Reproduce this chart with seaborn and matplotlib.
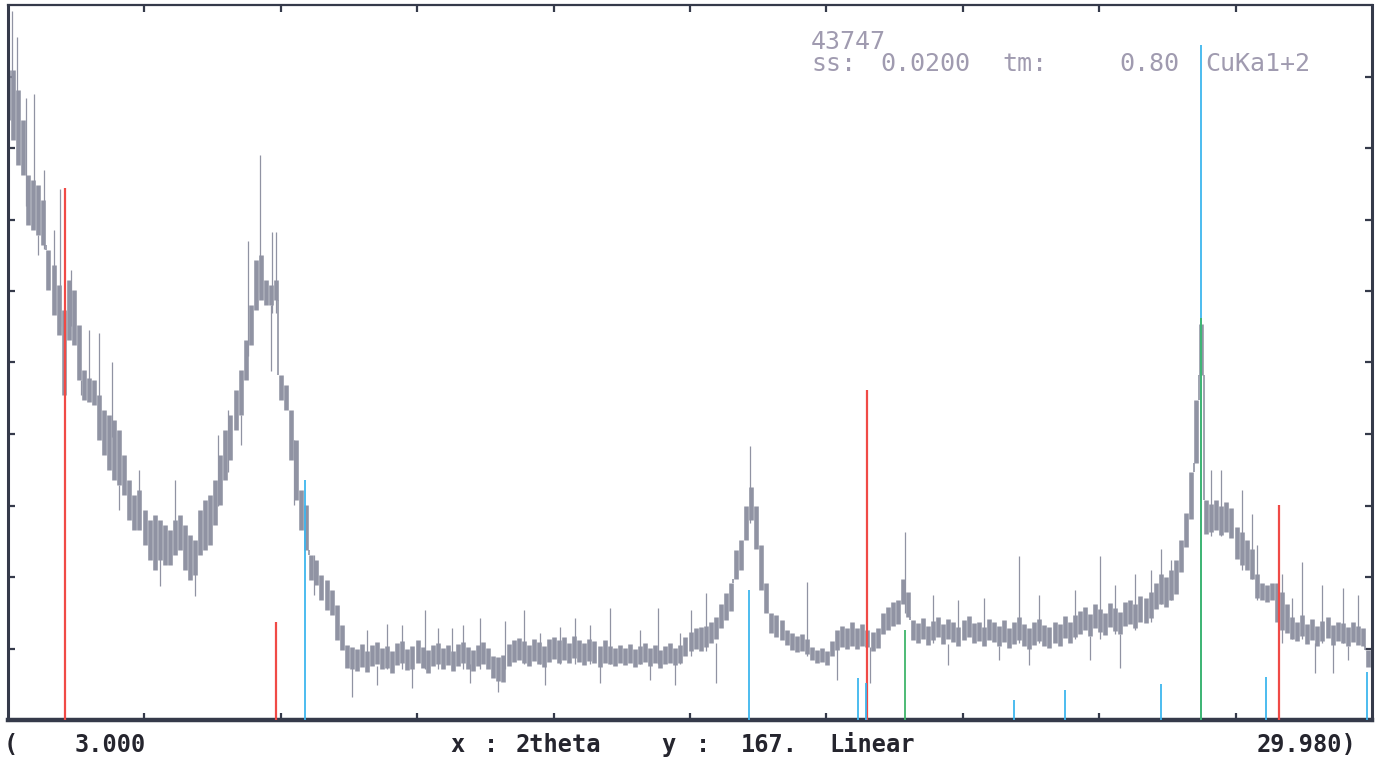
import numpy as np
import pandas as pd
import matplotlib
matplotlib.use("Agg")
import matplotlib.pyplot as plt
import seaborn as sns

# scan limits (deg 2theta) and full scale of the linear y axis (counts)
x_min, x_max = 3.000, 29.980
y_full = 167.

two_theta = np.round(np.arange(3.0, 29.95, 0.1), 1)
band_hi = [
  151.8, 151.8, 147.2, 140.2, 127.3, 126.1, 125.0, 121.5, 109.8, 106.3,
  101.6, 95.8, 102.8, 100.4, 92.3, 81.8, 79.9, 79.4, 75.9, 72.4,
  71.2, 70.1, 67.7, 61.9, 56.1, 52.6, 53.7, 49.1, 46.7, 47.9,
  46.7, 45.6, 44.4, 46.7, 47.9, 45.6, 43.2, 42.0, 49.1, 51.4,
  52.6, 56.1, 61.9, 67.7, 71.2, 77.1, 81.8, 88.8, 96.9, 107.5,
  108.6, 102.8, 101.6, 102.8, 80.6, 78.3, 72.4, 65.4, 53.7, 50.2,
  38.5, 37.4, 33.9, 32.7, 30.4, 26.9, 22.2, 17.5, 17.0, 16.5,
  17.8, 16.2, 17.5, 18.2, 16.8, 17.2, 16.0, 17.9, 18.4, 16.6,
  17.4, 18.6, 17.0, 16.3, 17.6, 18.0, 16.8, 17.5, 16.2, 17.8,
  18.3, 17.0, 16.4, 17.6, 18.2, 16.9, 15.0, 14.6, 15.2, 17.8,
  18.8, 19.2, 18.4, 17.6, 19.0, 18.2, 17.4, 18.9, 19.4, 18.6,
  19.3, 18.0, 19.6, 18.8, 17.9, 19.0, 18.4, 17.2, 18.6, 17.4,
  16.8, 17.6, 16.9, 17.8, 16.6, 17.3, 18.0, 16.8, 17.5, 16.4,
  17.2, 17.9, 16.9, 17.6, 19.5, 20.5, 21.5, 21.7, 22.0, 23.0,
  24.0, 27.0, 29.7, 32.0, 39.7, 42.0, 50.0, 54.4, 50.0, 40.9,
  32.0, 25.0, 24.5, 23.4, 21.0, 20.3, 19.6, 20.0, 19.0, 17.1,
  16.4, 16.8, 16.0, 18.5, 21.0, 22.0, 21.5, 22.8, 21.6, 22.4,
  21.0, 20.5, 21.4, 25.0, 26.5, 27.5, 28.0, 33.0, 30.0, 23.4,
  22.6, 23.8, 22.0, 23.2, 24.0, 22.4, 23.6, 22.8, 21.8, 23.4,
  24.2, 22.6, 23.0, 21.8, 23.6, 22.8, 22.0, 23.4, 21.6, 22.8,
  24.0, 22.4, 21.4, 22.8, 23.6, 22.2, 21.8, 23.0, 22.4, 24.2,
  23.0, 24.6, 25.4, 26.4, 24.8, 27.0, 26.0, 25.0, 27.4, 26.2,
  25.2, 27.6, 28.0, 27.0, 29.0, 28.4, 30.0, 32.0, 34.0, 33.5,
  35.0, 37.4, 42.0, 48.4, 58.0, 74.8, 92.5, 51.4, 50.5, 51.4,
  50.0, 51.0, 49.5, 45.0, 44.0, 42.0, 40.0, 34.0, 32.0, 31.5,
  32.0, 32.0, 30.0, 27.0, 24.0, 23.0, 24.6, 22.4, 23.6, 22.0,
  23.2, 24.0, 22.2, 23.0, 22.6, 21.8, 22.8, 22.0, 21.6, 16.4]
band_lo = [
  140.2, 135.5, 129.6, 127.3, 115.6, 114.5, 113.3, 111.0, 100.4, 94.6,
  89.9, 75.9, 88.8, 87.6, 79.4, 74.8, 74.3, 73.6, 65.4, 61.9,
  58.4, 56.1, 54.9, 52.6, 46.7, 44.4, 44.4, 40.9, 37.4, 35.0,
  37.4, 36.2, 36.2, 38.5, 39.7, 35.0, 32.7, 33.9, 38.5, 39.7,
  40.9, 45.6, 50.2, 56.1, 60.7, 67.7, 71.2, 79.4, 87.6, 95.8,
  98.1, 96.9, 96.9, 98.1, 74.8, 72.4, 60.7, 51.4, 44.4, 39.7,
  32.7, 31.5, 28.0, 25.7, 24.5, 18.7, 16.4, 12.1, 12.0, 11.5,
  12.4, 11.2, 12.6, 13.0, 11.8, 12.2, 11.0, 12.8, 13.2, 11.6,
  12.0, 13.4, 12.2, 11.0, 12.5, 13.0, 12.0, 12.8, 11.5, 12.6,
  13.2, 12.0, 11.4, 12.6, 13.1, 12.0, 9.8, 9.0, 8.8, 12.5,
  13.5, 14.0, 13.2, 12.6, 13.8, 13.0, 12.4, 13.6, 14.2, 13.4,
  14.0, 13.2, 14.4, 13.6, 12.8, 13.8, 13.2, 12.4, 13.4, 13.0,
  12.6, 13.2, 12.8, 13.4, 12.4, 13.0, 13.6, 12.6, 13.2, 12.2,
  13.0, 13.4, 12.8, 13.2, 15.0, 16.0, 16.5, 16.0, 17.0, 18.0,
  19.0, 21.5, 23.4, 25.5, 33.0, 35.0, 42.0, 46.7, 40.0, 30.4,
  25.0, 20.3, 19.5, 18.7, 17.5, 16.4, 15.8, 16.0, 15.5, 14.0,
  13.3, 13.5, 12.8, 15.0, 16.4, 17.0, 16.5, 17.4, 16.6, 17.2,
  17.1, 16.0, 16.8, 20.0, 21.0, 22.0, 22.5, 27.0, 24.0, 18.7,
  18.0, 19.0, 17.6, 18.6, 19.4, 17.8, 19.0, 18.2, 17.4, 18.8,
  19.4, 18.0, 18.4, 17.2, 18.8, 18.2, 17.4, 18.2, 16.8, 17.8,
  18.8, 17.4, 16.6, 17.6, 18.4, 17.2, 16.8, 18.0, 17.4, 19.2,
  18.0, 19.4, 20.0, 21.0, 19.6, 21.4, 20.6, 19.8, 21.8, 20.8,
  20.0, 22.0, 22.4, 21.4, 23.0, 22.6, 23.8, 26.0, 27.0, 26.5,
  28.0, 29.5, 34.5, 40.4, 47.0, 60.0, 80.6, 43.5, 44.0, 44.4,
  43.2, 44.0, 42.4, 37.5, 36.2, 35.0, 33.0, 28.5, 28.0, 27.5,
  28.0, 23.0, 21.0, 20.3, 19.0, 18.4, 19.6, 17.8, 18.8, 17.4,
  18.4, 19.2, 17.6, 18.4, 18.0, 17.2, 18.2, 17.6, 17.2, 12.4]

# single-count spikes sticking out of the band
spike_x = [3.08, 3.18, 3.36, 3.51, 3.60, 3.71, 3.90, 4.03, 4.25, 4.45, 4.60, 4.80, 5.05, 5.20, 5.60,
           6.00, 6.30, 6.70, 7.15, 7.35, 7.60, 7.75, 7.98, 8.20, 8.22, 8.30, 8.65, 9.05,
           9.80, 10.10, 10.30, 10.50, 10.80, 11.00, 11.25, 11.50, 11.78, 12.00, 12.14, 12.34,
           12.70, 12.83, 13.20, 13.52, 13.62, 13.92, 14.21, 14.51, 14.70, 14.90, 15.50, 15.70,
           15.85, 16.20, 16.29, 16.50, 16.80, 17.00,
           17.68, 18.80, 19.40, 20.05, 20.74, 21.30, 21.60, 21.80, 22.30, 22.60, 23.00, 23.20,
           23.40, 24.10, 24.40, 24.60, 24.90, 25.00, 25.30, 25.60, 25.80, 26.00,
           26.80, 27.00, 27.40, 27.60, 27.70, 28.20, 28.40, 28.60, 28.85, 29.00, 29.20, 29.40,
           29.50, 29.70]
spike_lo = [140.0, 135.0, 120.0, 115.0, 108.6, 110.0, 100.0, 92.0, 92.0, 75.9, 79.0, 70.0, 66.0, 49.1, 46.0,
            31.3, 40.0, 29.0, 50.0, 58.0, 64.2, 85.0, 100.0, 81.5, 95.0, 95.0, 50.2, 29.2,
            5.4, 12.0, 8.2, 12.0, 12.0, 7.5, 12.0, 12.0, 12.0, 12.0, 8.6, 12.0,
            6.5, 12.0, 13.0, 13.0, 8.2, 13.0, 13.0, 13.0, 8.6, 13.0, 13.0, 9.3,
            13.0, 8.2, 13.0, 15.0, 16.0, 8.6,
            46.0, 15.0, 9.3, 8.6, 25.0, 18.0, 12.8, 18.0, 18.0, 14.0, 18.0, 12.8,
            18.0, 19.0, 14.0, 19.0, 20.0, 12.1, 21.0, 23.0, 27.0, 28.0,
            43.0, 43.0, 35.0, 33.0, 28.0, 18.0, 19.0, 19.0, 11.0, 18.0, 11.0, 18.0,
            14.0, 18.0]
spike_hi = [165.6, 159.5, 145.3, 146.2, 113.3, 128.5, 114.5, 124.0, 105.1, 79.4, 91.1, 90.4, 83.6, 54.9, 58.4,
            40.0, 56.1, 38.0, 66.6, 72.4, 71.2, 111.9, 132.0, 97.0, 114.0, 114.0, 65.4, 38.5,
            14.0, 21.0, 12.6, 22.5, 22.2, 12.2, 25.7, 21.5, 21.5, 22.2, 13.0, 23.8,
            12.0, 23.1, 25.7, 20.3, 13.0, 21.7, 23.8, 22.2, 13.2, 26.2, 21.0, 13.2,
            26.2, 13.0, 20.3, 25.7, 29.7, 18.0,
            64.0, 32.2, 17.0, 17.0, 43.9, 29.2, 17.8, 28.0, 28.5, 17.4, 38.3, 17.6,
            29.2, 30.4, 19.6, 38.3, 31.5, 20.0, 34.0, 35.0, 40.0, 37.4,
            58.4, 58.4, 53.7, 48.0, 40.9, 34.0, 28.5, 36.9, 18.0, 31.5, 18.0, 30.8,
            17.2, 29.2]

# reference pattern sticks (position, intensity)
red_pos = [4.13, 8.30, 19.99, 28.14]
red_int = [124.3, 22.9, 77.1, 50.2]
blue_pos = [8.87, 17.66, 19.81, 19.97, 22.90, 23.91, 25.80, 26.60, 27.88, 29.88]
blue_int = [56.1, 30.4, 9.8, 8.6, 4.7, 7.0, 8.4, 157.7, 10.0, 11.2]
green_pos = [20.74, 26.60]
green_int = [21.0, 93.9]

scan = pd.DataFrame({'2theta': two_theta, 'lo': band_lo, 'hi': band_hi})
spikes = pd.DataFrame({'2theta': spike_x, 'lo': spike_lo, 'hi': spike_hi})

# the plotter joins neighbouring steps with a vertical stroke where they do not overlap
nxt = scan.shift(-1).iloc[:-1]
cur = scan.iloc[:-1]
join_x = (cur['2theta'].values + nxt['2theta'].values) / 2
join_lo = np.minimum(cur['hi'].values, nxt['hi'].values)
join_hi = np.maximum(cur['lo'].values, nxt['lo'].values)
gap = join_hi > join_lo

sns.set_theme(style="white")
plt.rcParams['font.family'] = ['DejaVu Sans Mono', 'DejaVu Sans']

fig = plt.figure(figsize=(13.83, 7.63), dpi=100)
ax = fig.add_axes([8/1383, 1 - 720/763, 1364/1383, 715/763])

frame = '#353a4a'
trace = '#9093a3'

ax.vlines(scan['2theta'], scan['lo'], scan['hi'], colors=trace, linewidth=3.3, zorder=2)
ax.vlines(join_x[gap], join_lo[gap], join_hi[gap], colors=trace, linewidth=1.2, zorder=2)
ax.vlines(spikes['2theta'], spikes['lo'], spikes['hi'], colors=trace, linewidth=0.9, zorder=2)

ax.vlines(red_pos, 0, red_int, colors='#f04a46', linewidth=1.6, zorder=3)
ax.vlines(blue_pos, 0, blue_int, colors='#3eb6ee', linewidth=1.3, zorder=4)
ax.vlines(green_pos, 0, green_int, colors='#3fb56a', linewidth=1.3, zorder=5)

ax.set_xlim(x_min, x_max)
ax.set_ylim(0, y_full)
ax.set_xticks(np.linspace(x_min, x_max, 11)[1:-1])
ax.set_yticks(np.linspace(0, y_full, 11)[1:-1])
ax.tick_params(direction='in', length=5, width=1.6, colors=frame,
               top=True, right=True, bottom=True, left=True,
               labelbottom=False, labelleft=False)
ax.grid(False)
for side, w in [('bottom', 3.2), ('left', 2.2), ('top', 1.6), ('right', 2.2)]:
  ax.spines[side].set_color(frame)
  ax.spines[side].set_linewidth(w)
  ax.spines[side].set_visible(True)

def put(px, py, s, color, weight='normal', size=18):
  fig.text(px/1383, 1 - py/763, s, color=color, fontsize=size, weight=weight,
           ha='left', va='center')

head = '#a09bb0'
put(811, 42, '43747', head)
put(811, 64, 'ss:', head)
put(880, 64, '0.0200', head)
put(1002, 64, 'tm:', head)
put(1119, 64, '0.80', head)
put(1205, 64, 'CuKa1+2', head)

foot = '#25252e'
put(4, 745, '(', foot, 'bold', 17)
put(75, 745, '3.000', foot, 'bold', 17)
put(450, 745, 'x', foot, 'bold', 17)
put(484, 745, ':', foot, 'bold', 17)
put(516, 745, '2theta', foot, 'bold', 17)
put(661, 745, 'y', foot, 'bold', 17)
put(696, 745, ':', foot, 'bold', 17)
put(741, 745, '167.', foot, 'bold', 17)
put(829, 745, 'Linear', foot, 'bold', 17)
put(1257, 745, '29.980)', foot, 'bold', 17)

fig.savefig('out.png', dpi=100, facecolor='white')
